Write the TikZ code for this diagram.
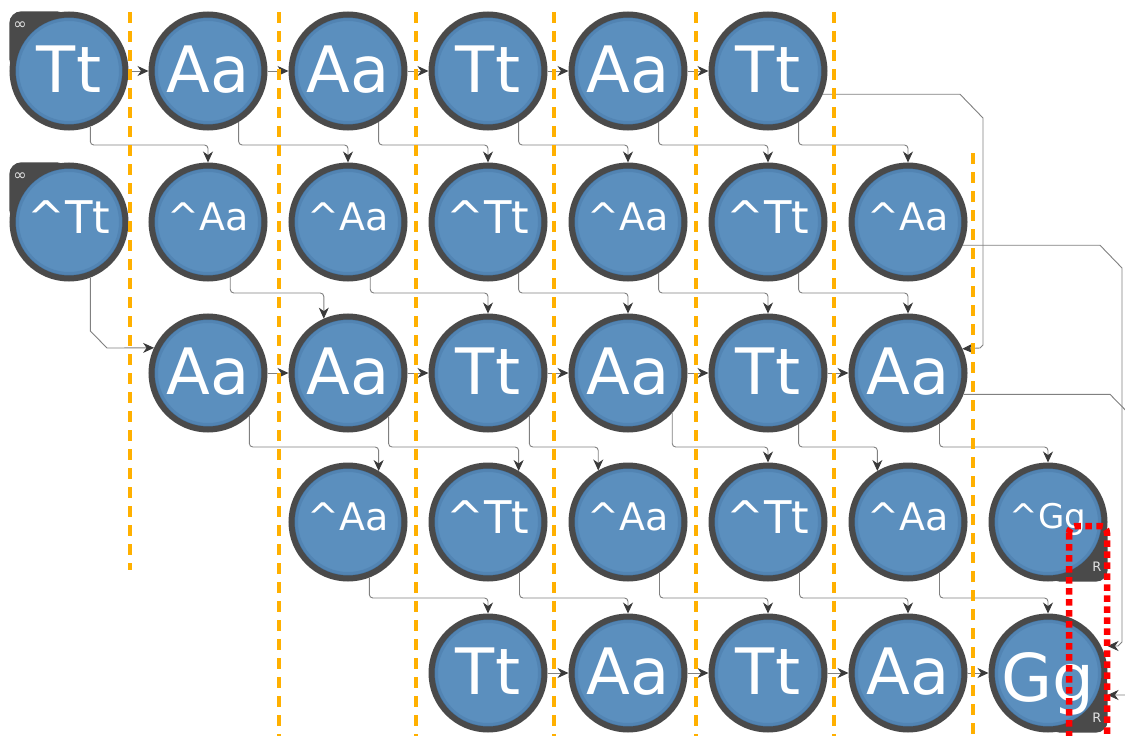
\documentclass[tikz,border=0pt]{standalone}
\usepackage{fontspec}
\usetikzlibrary{arrows.meta,calc}
\newfontfamily\nf{DejaVu Sans}
\definecolor{nodeblue}{HTML}{5B8FBE}
\definecolor{shadeblue}{HTML}{33618C}
\definecolor{ringgray}{HTML}{4A4A4A}
\definecolor{linegray}{HTML}{808080}
\definecolor{tipgray}{HTML}{3A3A3A}
\definecolor{dashorange}{HTML}{FFB000}
\definecolor{labelgray}{HTML}{E2E2E2}
\tikzset{
  cbase/.style={circle, minimum size=113pt, inner sep=0pt, line width=6pt, draw=ringgray,
    fill=nodeblue, text=white, text depth=0pt,
    path picture={
      \draw[shadeblue, line width=4pt, opacity=0.22] (path picture bounding box.center) circle[radius=52pt];
      \draw[shadeblue, line width=4pt, opacity=0.45] (path picture bounding box.center) circle[radius=55pt];}},
  bigtxt/.style={cbase, font=\nf\fontsize{64}{64}\selectfont, text height=43pt},
  bigg/.style={cbase, font=\nf\fontsize{66}{66}\selectfont, text height=56pt},
  hatt/.style={cbase, font=\nf\fontsize{45}{45}\selectfont, text height=22pt},
  hata/.style={cbase, font=\nf\fontsize{38}{38}\selectfont, text height=17pt},
  hatg/.style={cbase, font=\nf\fontsize{34}{34}\selectfont, text height=12pt},
  corner/.style={rectangle, fill=ringgray, minimum width=59.5pt, minimum height=59.5pt,
    inner sep=0pt, rounded corners=12pt},
  tag/.style={inner sep=0pt, text=labelgray, font=\nf\fontsize{13}{13}\selectfont},
  conn/.style={draw=linegray, line width=0.9pt, rounded corners=3.5pt,
    -{Stealth[length=11pt, width=10pt, inset=3.5pt, color=tipgray]}},
  odash/.style={draw=dashorange, line width=4pt, dash pattern=on 11pt off 8pt},
  reddot/.style={draw=red, line width=6.5pt, dash pattern=on 6.5pt off 4.5pt, rounded corners=7pt},
}
\begin{document}
\begin{tikzpicture}[x=1pt,y=-1pt]
\useasboundingbox (0,0) rectangle (1125,736);
\clip (0,0) rectangle (1125,736);
\fill[white] (0,0) rectangle (1125,736);

% special corner shapes
\node[corner, anchor=south east] (k00) at (69,71) {};
\node[corner, anchor=south east] (k10) at (69,222) {};
\node[corner, anchor=north west] (k37) at (1048,522) {};
\node[corner, anchor=north west] (k47) at (1048,673) {};

% row 0
\node[bigtxt] (n00) at (69,71) {Tt};
\node[bigtxt] (n01) at (208,71) {Aa};
\node[bigtxt] (n02) at (348,71) {Aa};
\node[bigtxt] (n03) at (488,71) {Tt};
\node[bigtxt] (n04) at (628,71) {Aa};
\node[bigtxt] (n05) at (768,71) {Tt};
% row 1
\node[hatt] (n10) at (69,222) {\textasciicircum Tt};
\node[hata] (n11) at (208,222) {\textasciicircum Aa};
\node[hata] (n12) at (348,222) {\textasciicircum Aa};
\node[hatt] (n13) at (488,222) {\textasciicircum Tt};
\node[hata] (n14) at (628,222) {\textasciicircum Aa};
\node[hatt] (n15) at (768,222) {\textasciicircum Tt};
\node[hata] (n16) at (908,222) {\textasciicircum Aa};
% row 2
\node[bigtxt] (n21) at (208,373) {Aa};
\node[bigtxt] (n22) at (348,373) {Aa};
\node[bigtxt] (n23) at (488,373) {Tt};
\node[bigtxt] (n24) at (628,373) {Aa};
\node[bigtxt] (n25) at (768,373) {Tt};
\node[bigtxt] (n26) at (908,373) {Aa};
% row 3
\node[hata] (n32) at (348,522) {\textasciicircum Aa};
\node[hatt] (n33) at (488,522) {\textasciicircum Tt};
\node[hata] (n34) at (628,522) {\textasciicircum Aa};
\node[hatt] (n35) at (768,522) {\textasciicircum Tt};
\node[hata] (n36) at (908,522) {\textasciicircum Aa};
\node[hatg] (n37) at (1048,522) {\textasciicircum Gg};
% row 4
\node[bigtxt] (n43) at (488,673) {Tt};
\node[bigtxt] (n44) at (628,673) {Aa};
\node[bigtxt] (n45) at (768,673) {Tt};
\node[bigtxt] (n46) at (908,673) {Aa};
\node[bigg] (n47) at (1048,673) {Gg};

% corner tags
\node[tag, font=\nf\fontsize{16}{16}\selectfont] (t00) at (20,26) {∞};
\node[tag, font=\nf\fontsize{16}{16}\selectfont] (t10) at (20,177) {∞};
\node[tag] (t37) at (1097,567) {R};
\node[tag] (t47) at (1097,718) {R};

% horizontal arrows
\foreach \a/\b in {n00/n01,n01/n02,n02/n03,n03/n04,n04/n05,
                   n21/n22,n22/n23,n23/n24,n24/n25,n25/n26,
                   n43/n44,n44/n45,n45/n46,n46/n47}
  \draw[conn] (\a) -- (\b);

% row 0 -> row 1
\draw[conn] (n00.-69.3) |- (n11.north |- 0,145) -- (n11.north);
\draw[conn] (n01.-59.7) |- (n12.north |- 0,145) -- (n12.north);
\draw[conn] (n02.-59.7) |- (n13.north |- 0,145) -- (n13.north);
\draw[conn] (n03.-59.7) |- (n14.north |- 0,145) -- (n14.north);
\draw[conn] (n04.-59.7) |- (n15.north |- 0,145) -- (n15.north);
\draw[conn] (n05.-59.7) |- (n16.north |- 0,145) -- (n16.north);
\draw[conn, rounded corners=0pt] (n05.-23.8) -- (n05.-23.8 -| 960,0) -- (983,118) -- (983,345) -- (980,348) -- (n26.24.8);

% row 1 -> row 2
\draw[conn, rounded corners=0pt] (n10.-69.3) -- (n10.-69.3 |- 0,331) -- (107,348) -- (n21.155.2);
\draw[conn] (n11.-68.3) |- (n22.114.8 |- 0,293) -- (n22.114.8);
\draw[conn] (n12.-68.3) |- (n23.north |- 0,293) -- (n23.north);
\draw[conn] (n13.-59.7) |- (n24.north |- 0,293) -- (n24.north);
\draw[conn] (n14.-59.7) |- (n25.north |- 0,293) -- (n25.north);
\draw[conn] (n15.-59.7) |- (n26.north |- 0,293) -- (n26.north);
\draw[conn, rounded corners=0pt] (n16.-23.8) -- (n16.-23.8 -| 1100,0) -- (1122,268) -- (1122,642) -- (1118,646) -- (n47.east |- 0,646);

% row 2 -> row 3
\draw[conn] (n21.-46.4) |- (n32.59.7 |- 0,447) -- (n32.59.7);
\draw[conn] (n22.-47.8) |- (n33.59.7 |- 0,447) -- (n33.59.7);
\draw[conn] (n23.-46.4) |- (n34.120.3 |- 0,447) -- (n34.120.3);
\draw[conn] (n24.-42.3) |- (n35.north |- 0,447) -- (n35.north);
\draw[conn] (n25.-59.7) |- (n36.121.4 |- 0,447) -- (n36.121.4);
\draw[conn] (n26.-58.6) |- (n37.north |- 0,447) -- (n37.north);
\draw[conn, rounded corners=0pt] (n26.-21.7) -- (n26.-21.7 -| 1110,0) -- (1140,425) -- (1140,695) -- (n47.east |- 0,695);

% row 3 -> row 4
\draw[conn] (n32.-69.3) |- (n43.north |- 0,598) -- (n43.north);
\draw[conn] (n33.-58.6) |- (n44.north |- 0,598) -- (n44.north);
\draw[conn] (n34.-58.6) |- (n45.north |- 0,598) -- (n45.north);
\draw[conn] (n35.-58.6) |- (n46.north |- 0,598) -- (n46.north);
\draw[conn] (n36.-58.6) |- (n47.north |- 0,598) -- (n47.north);

% orange dashed separators
\draw[odash] (129.5,12) -- (129.5,570);
\draw[odash] (278.5,12) -- (278.5,740);
\draw[odash] (416,12) -- (416,740);
\draw[odash] (553.5,12) -- (553.5,740);
\draw[odash] (696,12) -- (696,740);
\draw[odash] (834,12) -- (834,740);
\draw[odash] (973,153) -- (973,740);

% red dotted frame
\draw[reddot] (1069,526) rectangle (1107,744);
\end{tikzpicture}
\end{document}
